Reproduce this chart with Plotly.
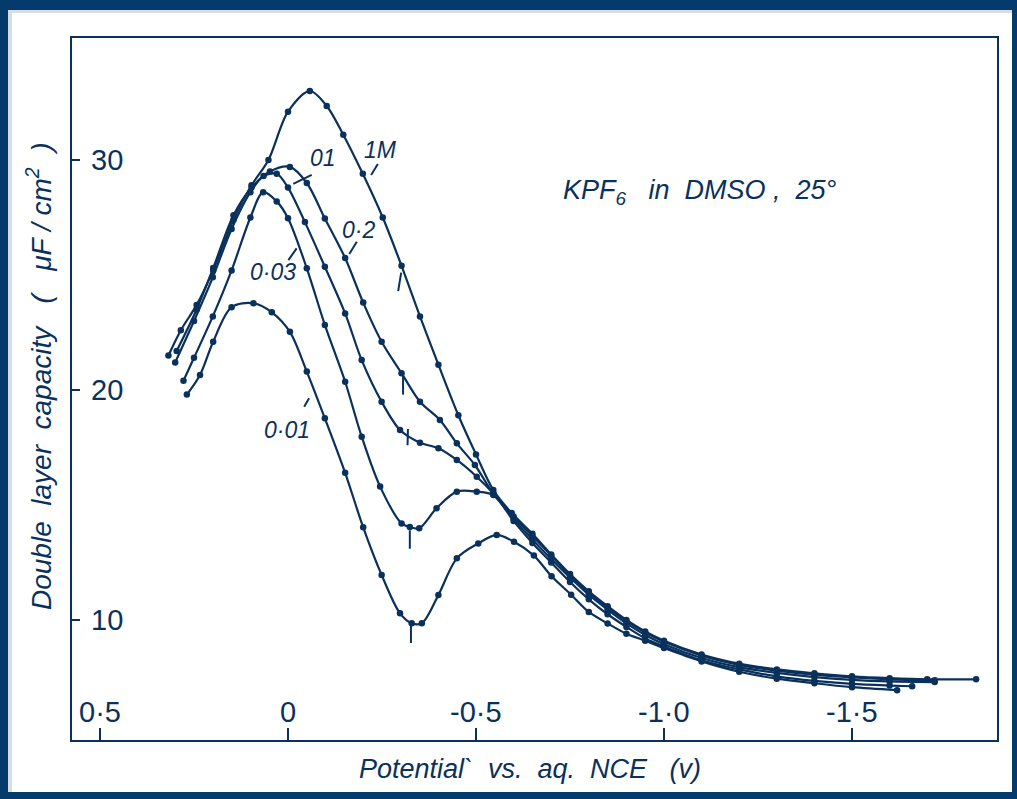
import plotly.graph_objects as go

NAVY = "#0a315c"
BAND = "#053b6c"

# ---------------- data (potential V vs aq. NCE, capacity uF/cm2) ----------------
v_1m = [0.318, 0.285, 0.243, 0.199, 0.145, 0.097, 0.052, 0.0, -0.058, -0.103, -0.147, -0.199,
        -0.252, -0.302, -0.351, -0.40, -0.453, -0.50, -0.546, -0.595, -0.65, -0.70, -0.75,
        -0.80, -0.85, -0.90, -0.95, -1.0, -1.1, -1.2, -1.3, -1.4, -1.5, -1.6, -1.7, -1.83]
c_1m = [21.5, 22.6, 23.7, 25.2, 27.4, 28.9, 30.0, 32.1, 33.0, 32.35, 31.1, 29.4,
        27.5, 25.4, 23.2, 21.1, 18.9, 17.2, 15.65, 14.65, 13.75, 12.85, 12.0,
        11.25, 10.6, 10.0, 9.5, 9.1, 8.5, 8.1, 7.85, 7.68, 7.55, 7.47, 7.42, 7.42]

v_02 = [0.296, 0.243, 0.199, 0.145, 0.097, 0.048, -0.005, -0.05, -0.098, -0.152, -0.2,
        -0.249, -0.302, -0.351, -0.404, -0.449, -0.497, -0.546, -0.60, -0.65, -0.70, -0.75,
        -0.80, -0.85, -0.90, -0.95, -1.0, -1.1, -1.2, -1.3, -1.4, -1.5, -1.6, -1.72]
c_02 = [21.7, 23.5, 25.3, 27.6, 28.8, 29.5, 29.7, 29.0, 27.46, 25.74, 23.8,
        22.1, 20.73, 19.49, 18.7, 17.68, 16.74, 15.5, 14.5, 13.65, 12.8, 11.95,
        11.2, 10.55, 9.95, 9.45, 9.05, 8.45, 8.05, 7.8, 7.62, 7.5, 7.42, 7.38]

v_01 = [0.30, 0.25, 0.20, 0.15, 0.10, 0.065, 0.03, 0.0, -0.045, -0.098, -0.152, -0.196,
        -0.249, -0.298, -0.351, -0.40, -0.449, -0.502, -0.546, -0.60, -0.65, -0.70, -0.75,
        -0.80, -0.85, -0.90, -0.95, -1.0, -1.1, -1.2, -1.3, -1.4, -1.5, -1.6, -1.72]
c_01 = [21.2, 23.0, 24.9, 27.0, 28.6, 29.3, 29.4, 28.8, 27.3, 25.36, 23.33, 21.3,
        19.49, 18.26, 17.71, 17.47, 16.96, 16.23, 15.5, 14.4, 13.5, 12.65, 11.85,
        11.1, 10.45, 9.85, 9.35, 8.95, 8.35, 7.95, 7.7, 7.52, 7.4, 7.33, 7.3]

v_003 = [0.278, 0.25, 0.20, 0.15, 0.10, 0.066, 0.03, 0.0, -0.05, -0.098, -0.152, -0.196,
         -0.245, -0.302, -0.324, -0.349, -0.395, -0.449, -0.502, -0.546, -0.60, -0.65, -0.70,
         -0.75, -0.80, -0.85, -0.90, -0.95, -1.0, -1.1, -1.2, -1.3, -1.4, -1.5, -1.6, -1.66]
c_003 = [20.4, 21.4, 23.2, 25.2, 27.5, 28.6, 28.2, 27.47, 25.29, 22.83, 20.36, 17.97,
         15.8, 14.2, 14.04, 13.99, 14.86, 15.58, 15.58, 15.43, 14.3, 13.35, 12.5,
         11.65, 10.9, 10.25, 9.7, 9.2, 8.85, 8.25, 7.85, 7.55, 7.35, 7.22, 7.15, 7.12]

v_001 = [0.269, 0.234, 0.199, 0.15, 0.092, 0.043, -0.005, -0.05, -0.098, -0.152, -0.2,
         -0.249, -0.298, -0.329, -0.356, -0.40, -0.449, -0.506, -0.555, -0.601, -0.654,
         -0.701, -0.753, -0.80, -0.85, -0.90, -0.95, -1.0, -1.1, -1.2, -1.3, -1.4, -1.5, -1.62]
c_001 = [19.8, 20.65, 22.1, 23.6, 23.77, 23.38, 22.53, 20.8, 18.77, 16.4, 14.03,
         11.96, 10.29, 9.86, 9.86, 11.09, 12.68, 13.33, 13.7, 13.4, 12.8,
         11.9, 11.1, 10.35, 9.85, 9.4, 9.1, 8.78, 8.2, 7.75, 7.45, 7.25, 7.08, 6.95]

series = [("1M", v_1m, c_1m), ("0.2", v_02, c_02), ("0.1", v_01, c_01),
          ("0.03", v_003, c_003), ("0.01", v_001, c_001)]

x_tickvals = [0.5, 0.0, -0.5, -1.0, -1.5]
x_ticktext = ["0·5", "0", "-0·5", "-1·0", "-1·5"]
y_tickvals = [10, 20, 30]
y_ticktext = ["10", "20", "30"]

FONT = "Liberation Sans"

fig = go.Figure()
for name, v, c in series:
    fig.add_trace(go.Scatter(
        x=v, y=c, mode="lines+markers", name=name,
        line=dict(color=NAVY, width=2.2, shape="spline", smoothing=0.9),
        marker=dict(color=NAVY, size=6.5),
        showlegend=False,
    ))

# frame geometry
L, R, T, B = 72, 20, 38, 59
W, H = 1017, 799
pw, ph = W - L - R, H - T - B
def px(x):
    return (x - L) / pw
def py(y):
    return (H - B - y) / ph

# curve labels (text) and leader ticks
labels = [
    ("1M", -0.245, 30.43, (-0.239, 29.83, -0.221, 29.35)),
    ("01", -0.093, 30.09, (-0.063, 29.35, -0.014, 28.96)),
    ("0·2", -0.187, 26.96, (-0.183, 26.45, -0.163, 25.91)),
    ("0·03", 0.039, 25.14, (-0.001, 25.65, -0.023, 26.16)),
    ("0·01", 0.003, 18.26, (-0.043, 19.27, -0.056, 19.64)),
]
annotations = []
shapes = []
for txt, lx, ly, (x0, y0, x1, y1) in labels:
    annotations.append(dict(x=lx, y=ly, xref="x", yref="y", text=txt, showarrow=False,
                            font=dict(family=FONT, size=23, color=NAVY, style="italic")))
    shapes.append(dict(type="line", xref="x", yref="y", x0=x0, y0=y0, x1=x1, y1=y1,
                       line=dict(color=NAVY, width=2)))

# small upward ticks beneath the curves
for (xa, ya, xb, yb) in [(-0.301, 25.1, -0.293, 24.3), (-0.306, 20.6, -0.306, 19.8),
                         (-0.319, 18.3, -0.318, 17.6), (-0.324, 13.9, -0.324, 13.1),
                         (-0.327, 9.8, -0.327, 9.0)]:
    shapes.append(dict(type="line", xref="x", yref="y", x0=xa, y0=ya, x1=xb, y1=yb,
                       line=dict(color=NAVY, width=2)))

annotations.append(dict(x=-1.096, y=28.6, xref="x", yref="y",
                        text="KPF<sub>6</sub>   in  DMSO ,  25°", showarrow=False,
                        font=dict(family=FONT, size=27, color=NAVY, style="italic")))

# tick labels (drawn inside the frame)
for tv, tt in zip(x_tickvals, x_ticktext):
    annotations.append(dict(x=tv, y=py(712), xref="x", yref="paper", text=tt,
                            showarrow=False, xanchor="center", yanchor="middle",
                            font=dict(family=FONT, size=29, color=NAVY)))
for tv, tt in zip(y_tickvals, y_ticktext):
    annotations.append(dict(x=px(89), y=tv, xref="paper", yref="y", text=tt,
                            showarrow=False, xanchor="left", yanchor="middle",
                            font=dict(family=FONT, size=29, color=NAVY)))

# axis titles
annotations.append(dict(x=px(530), y=py(786), xref="paper", yref="paper",
                        text="Potential`  vs.  aq.  NCE   (v)", showarrow=False,
                        font=dict(family=FONT, size=27, color=NAVY, style="italic")))
annotations.append(dict(x=px(19), y=py(376), xref="paper", yref="paper", textangle=-90,
                        text="Double  layer  capacity   (   μF / cm<sup>2</sup>  )", showarrow=False,
                        font=dict(family=FONT, size=28, color=NAVY, style="italic")))

for (xa, ya, xb, yb) in [(0, 0, W, 10), (0, 0, 8, H), (W - 5, 0, W, H), (0, H - 7, W, H)]:
    shapes.append(dict(type="rect", xref="paper", yref="paper", x0=px(xa), x1=px(xb),
                       y0=py(yb), y1=py(ya), fillcolor=BAND, line=dict(width=0), layer="above"))
# faint inner shadow
for (xa, ya, xb, yb) in [(8, 10, 12, H - 7), (8, 10, W - 5, 13)]:
    shapes.append(dict(type="rect", xref="paper", yref="paper", x0=px(xa), x1=px(xb),
                       y0=py(yb), y1=py(ya), fillcolor="#d9dde2", line=dict(width=0), layer="above"))

fig.update_layout(
    width=W, height=H,
    margin=dict(l=L, r=R, t=T, b=B, pad=0),
    paper_bgcolor="white", plot_bgcolor="white",
    annotations=annotations, shapes=shapes,
    xaxis=dict(range=[(288 - 72) / 376, (288 - 997) / 376],
               tickvals=x_tickvals, showticklabels=False,
               ticks="inside", ticklen=12, tickwidth=2, tickcolor=NAVY,
               showline=True, linecolor=NAVY, linewidth=2, mirror=True,
               showgrid=False, zeroline=False),
    yaxis=dict(range=[30 - (740 - 160) / 23, 30 + (160 - 38) / 23],
               tickvals=y_tickvals, showticklabels=False,
               ticks="inside", ticklen=8, tickwidth=2, tickcolor=NAVY,
               showline=True, linecolor=NAVY, linewidth=2, mirror=True,
               showgrid=False, zeroline=False),
)

fig.write_html("out.html")
